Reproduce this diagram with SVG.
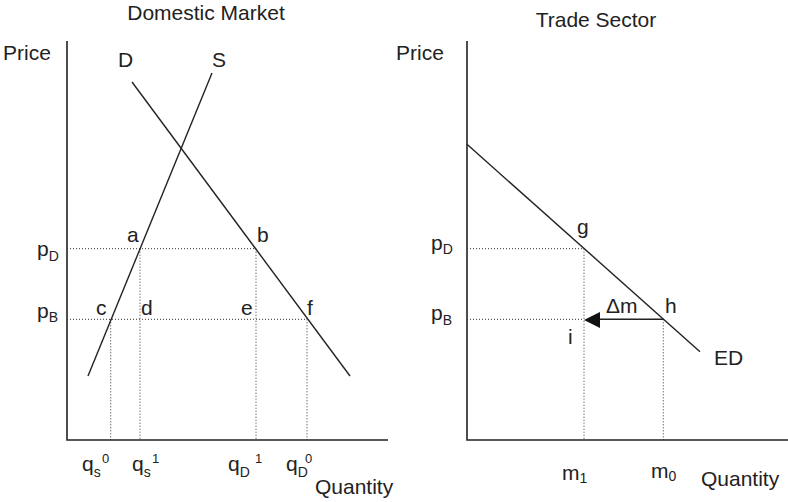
<svg xmlns="http://www.w3.org/2000/svg" width="788" height="502" viewBox="0 0 788 502">
<style>
text{font-family:"Liberation Sans",Arial,sans-serif;font-size:21px;fill:#222}
.sub{font-size:14px}
.sup{font-size:13px}
.axis{stroke:#222;stroke-width:1.6;fill:none}
.curve{stroke:#222;stroke-width:1.4;fill:none}
.dot{stroke:#333;stroke-width:1;stroke-dasharray:1 2;fill:none}
</style>
<rect width="788" height="502" fill="#fff"/>
<g id="titles">
<text x="206" y="20" text-anchor="middle">Domestic Market</text>
<text x="596" y="27" text-anchor="middle">Trade Sector</text>
</g>
<g id="axes">
<path class="axis" d="M67 41V440H388"/>
<path class="axis" d="M467 41V440H788"/>
</g>
<g id="connectors">
<path class="dot" d="M67 248.7H256M67 319.3H307M110.7 319.3V440M140 248.7V440M256 248.7V440M307 319.3V440"/>
<path class="dot" d="M467 248.7H584M467 319.3H584M584 248.7V440M663.3 319.3V440"/>
<path class="curve" d="M88 376L212 73"/>
<path class="curve" d="M132 82L350 376"/>
<path class="curve" d="M467 144.3L700 351.7"/>
<path class="curve" d="M663.3 319.3H599"/>
<polygon points="584,320 600,312 600,328" fill="#111"/>
</g>
<g id="labels-left">
<text x="3" y="60">Price</text>
<text x="118" y="67">D</text>
<text x="212" y="67">S</text>
<text x="127" y="242">a</text>
<text x="257" y="242">b</text>
<text x="96" y="315">c</text>
<text x="141" y="315">d</text>
<text x="241" y="315">e</text>
<text x="307" y="315">f</text>
<text x="37" y="256">p<tspan class="sub" y="261">D</tspan></text>
<text x="37" y="318">p<tspan class="sub" y="322">B</tspan></text>
<text x="82" y="471">q<tspan class="sub" y="477">s</tspan><tspan class="sup" x="102" y="463">0</tspan></text>
<text x="132" y="471">q<tspan class="sub" y="477">s</tspan><tspan class="sup" x="152" y="463">1</tspan></text>
<text x="228" y="471">q<tspan class="sub" y="477">D</tspan><tspan class="sup" x="255" y="463">1</tspan></text>
<text x="286" y="471">q<tspan class="sub" y="477">D</tspan><tspan class="sup" x="305" y="463">0</tspan></text>
<text x="315" y="494">Quantity</text>
</g>
<g id="labels-right">
<text x="396" y="60">Price</text>
<text x="431" y="250">p<tspan class="sub" y="254">D</tspan></text>
<text x="431" y="320">p<tspan class="sub" y="325">B</tspan></text>
<text x="577" y="234">g</text>
<text x="606" y="313">Δm</text>
<text x="665" y="313">h</text>
<text x="568" y="344">i</text>
<text x="714" y="365">ED</text>
<text x="562" y="480">m<tspan class="sub" y="483">1</tspan></text>
<text x="651" y="478">m<tspan class="sub" y="481">0</tspan></text>
<text x="701" y="486">Quantity</text>
</g>
</svg>
